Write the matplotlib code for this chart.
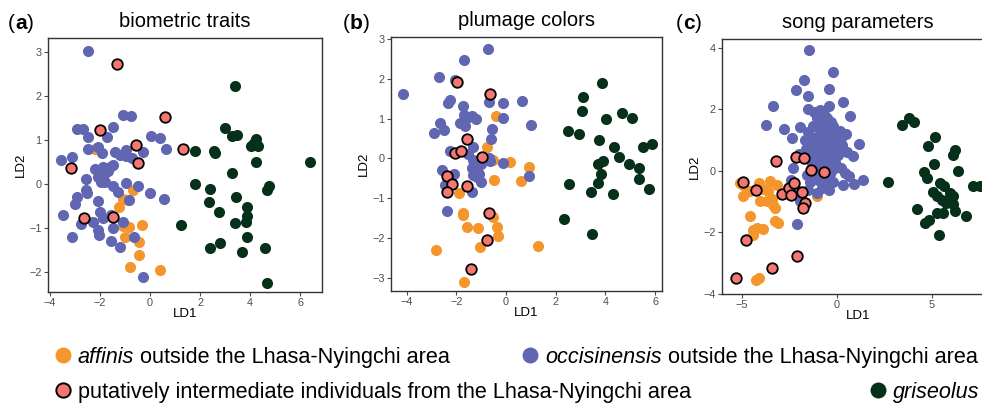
import matplotlib
matplotlib.use("Agg")
import matplotlib.pyplot as plt

plt.rcParams['font.family'] = ['Liberation Sans', 'DejaVu Sans']

# ---------------- data ----------------
# Panel a: biometric traits
a_aff_x = [-2.2, -0.69, -1.07, -0.89, -1.23, -1.09, -0.83, -0.32, -0.99, -0.43, -0.45, -0.8, 0.4]
a_aff_y = [0.8, -0.14, -0.33, -0.36, -0.51, -0.95, -0.98, -0.93, -1.19, -1.32, -1.61, -1.88, -1.96]
a_occ_x = [-2.49, -1.08, -0.77, -2.93, -2.69, -1.48, -2.47, -1.73, 0.03, 0.4, 0.64, -2.48, -2.07,
           -1.92, -3.57, -3.11, -1.4, -1.2, -0.97, -0.96, -0.73, -0.27, -2.2, -1.87, -1.6, -1.47,
           -1.67, -1.8, -2.07, -1.97, -2.56, -1.79, -1.47, -1.27, -0.96, -0.47, 0.0, -2.56, -2.51,
           -2.91, -3.0, -2.07, -0.83, 0.57, -3.49, -2.0, -1.87, -1.55, -2.27, -2.76, -1.47, -1.09,
           -2.09, -2.03, -3.13, -1.56, -1.2, -0.63, -0.29]
a_occ_y = [3.04, 1.58, 1.55, 1.26, 1.26, 1.3, 1.08, 1.08, 1.09, 1.05, 0.8, 0.8, 0.84,
           0.7, 0.55, 0.63, 0.73, 0.67, 0.78, 0.64, 0.6, 0.73, 0.34, 0.4, 0.4, 0.44,
           0.29, 0.25, 0.17, 0.06, 0.11, 0.04, -0.05, -0.17, 0.02, -0.03, -0.19, -0.13, -0.2,
           -0.28, -0.45, -0.39, -0.36, -0.34, -0.71, -0.63, -0.77, -0.7, -0.85, -0.9, -1.0, -0.85,
           -1.04, -1.16, -1.2, -1.28, -1.42, -1.2, -2.12]
a_int_x = [-1.33, 0.61, -2.0, -0.57, 1.31, -0.47, -3.17, -2.64, -1.47]
a_int_y = [2.74, 1.52, 1.23, 0.89, 0.79, 0.48, 0.37, -0.77, -0.75]
a_gri_x = [3.41, 2.99, 3.27, 3.49, 4.24, 4.16, 4.04, 4.31, 1.8, 2.57, 2.61, 4.23, 6.4, 3.28, 1.8,
           2.4, 4.77, 4.67, 3.43, 2.36, 3.87, 2.77, 3.89, 3.83, 3.4, 1.23, 3.87, 2.8, 2.41, 3.67,
           4.61, 4.67]
a_gri_y = [2.24, 1.27, 1.1, 1.11, 1.02, 0.93, 0.86, 0.86, 0.76, 0.76, 0.7, 0.5, 0.51, 0.25, 0.0,
           -0.11, -0.03, -0.13, -0.3, -0.41, -0.51, -0.64, -0.72, -0.85, -0.87, -0.93, -1.2, -1.34,
           -1.46, -1.55, -1.44, -2.25]

# Panel b: plumage colors
b_aff_x = [-0.4, -0.78, -0.51, 0.16, 0.94, -0.47, 0.6, -1.88, -1.74, -1.74, -0.51, -1.58, -1.14,
           -0.38, -0.31, -1.05, 1.28, -2.82, -1.7]
b_aff_y = [1.07, 0.29, -0.04, -0.08, -0.21, -0.53, -0.57, -0.88, -1.36, -1.42, -1.47, -1.72, -1.74,
           -1.72, -1.95, -2.22, -2.2, -2.3, -3.1]
b_occ_x = [-0.74, -1.7, -2.71, -2.05, -4.13, -2.32, -2.26, -0.67, -0.11, 0.64, -1.72, -1.68, -1.58,
           -1.36, -1.22, -0.11, -1.85, -1.65, -2.66, -2.48, -2.9, -0.55, 1.0, -0.62, -1.34, -2.26,
           -1.52, -1.34, -0.7, -0.64, -0.11, -1.0, -2.59, -2.08, -1.38, -1.18, -1.07, -1.34, -1.18,
           -1.02, -2.46, -1.36, 0.91, -2.36]
b_occ_y = [2.75, 2.46, 2.05, 1.97, 1.63, 1.38, 1.47, 1.42, 1.4, 1.44, 1.32, 1.09, 1.01,
           1.07, 0.98, 1.01, 0.88, 0.81, 0.88, 0.71, 0.63, 0.73, 0.83, 0.48, 0.29, 0.18,
           0.1, -0.04, 0.0, -0.06, -0.11, -0.13, -0.28, -0.38, -0.25, -0.29, -0.38, -0.42, -0.46,
           -0.6, -0.67, -0.85, -0.44, -1.32]
b_int_x = [-1.99, -0.64, -1.58, -0.98, -2.05, -1.81, -2.36, -2.19, -2.39, -1.57, -0.68, -0.75, -1.41]
b_int_y = [1.91, 1.63, 0.5, 0.03, 0.13, 0.18, -0.44, -0.63, -0.84, -0.69, -1.38, -2.05, -2.77]
b_gri_x = [3.87, 3.11, 3.07, 4.03, 4.66, 5.09, 2.48, 2.93, 3.73, 4.35, 4.54, 5.5, 5.87, 3.89, 3.72,
           4.97, 5.37, 3.81, 3.72, 5.37, 2.55, 5.77, 3.42, 4.32, 2.35, 3.45]
b_gri_y = [1.9, 1.55, 1.19, 0.99, 1.15, 1.02, 0.7, 0.61, 0.46, 0.28, 0.04, 0.28, 0.36, -0.06, -0.15,
           -0.13, -0.25, -0.39, -0.61, -0.52, -0.63, -0.78, -0.85, -0.9, -1.53, -1.89]

# Panel c: song parameters
c_aff_x = [-5.1, -4.96, -4.92, -4.57, -4.08, -3.52, -3.17, -3.61, -4.05, -3.7, -3.35, -3.26, -4.57,
           -3.26, -3.08, -4.4, -4.22, -3.91, -4.43, -4.26, -4.08, -1.07, -3.9, -3.4]
c_aff_y = [-0.4, -0.45, -0.83, -0.67, -0.4, -0.32, -0.45, -0.67, -0.99, -0.99, -1.1, -1.21, -1.48,
           -1.64, -1.7, -1.91, -1.86, -1.89, -2.08, -3.54, -3.48, -0.81, -0.6, -0.9]
c_occ_x = [-1.45, -0.23, -1.73, -2.15, -1.51, -0.4, -3.35, -1.54, -0.4, 0.33, 0.68, -3.73, -2.78,
           -1.94, -2.38, 1.16, 0.86, 0.5, 0.45,
           -1.21, -0.89, -0.7, -1.07, -0.54, -0.3, -1.24, -0.72, -0.19, -0.95, 0.16, -0.45, -1.5,
           -1.42, -0.98, -0.54, -0.19, 0.2, -1.7, -1.5, -1.05, -0.6, -0.2, 0.25, -0.8,
           -1.3, -0.9, -0.4, 0.0, -1.65, -2.0, -1.1, -0.7, -0.3, 0.05, -1.45,
           -1.3, -0.9, -0.5, -0.1, -2.33, -1.0, -0.6, -0.2, 0.2,
           -1.6, -1.2, -0.8, -0.35, 0.42, 0.65, -1.4, -1.0, -0.6, -0.2, 1.38, 0.89, 0.33,
           -1.51, -1.07, -0.4, -0.8, -2.56, -1.94, -2.1, -2.4, -2.2]
c_occ_y = [3.92, 3.22, 2.95, 2.61, 2.44, 2.65, 2.09, 2.01, 2.11, 2.22, 1.78, 1.49, 1.36,
           1.42, 1.08, 0.88, 0.47, 0.6, 1.2,
           1.92, 1.98, 1.85, 1.71, 1.71, 1.6, 1.46, 1.52, 1.46, 1.4, 1.28, 1.3, 1.25,
           1.11, 1.14, 1.14, 1.11, 1.05, 1.0, 0.85, 0.88, 0.85, 0.9, 0.85, 0.95,
           0.7, 0.65, 0.7, 0.65, 0.7, 0.55, 0.45, 0.5, 0.45, 0.5, 0.5,
           0.25, 0.3, 0.25, 0.3, 0.09, 0.1, 0.05, 0.05, 0.1,
           -0.15, -0.1, -0.15, -0.1, -0.08, -0.18, -0.35, -0.3, -0.3, -0.35, -0.31, -0.42, -0.45,
           -0.62, -0.72, -0.62, -0.55, -0.56, -0.99, -1.73, -0.3, -0.55]
c_int_x = [-3.22, -2.15, -1.73, -1.37, -0.67, -4.96, -4.26, -2.91, -2.51, -2.24, -2.42, -1.86,
           -1.68, -1.8, -4.78, -2.08, -3.4, -5.32]
c_int_y = [0.32, 0.46, 0.4, 0.03, -0.04, -0.35, -0.62, -0.76, -0.56, -0.4, -0.78, -0.69,
           -1.05, -1.21, -2.24, -2.76, -3.16, -3.48]
c_gri_x = [3.43, 3.8, 4.05, 5.15, 4.8, 6.2, 6.11, 6.37, 5.11, 4.59, 4.71, 2.7, 7.16, 7.51, 5.41,
           5.64, 5.03, 5.24, 5.5, 5.94, 6.08, 5.76, 6.11, 6.2, 6.78, 4.19, 5.24, 5.59, 4.85, 4.62, 5.38]
c_gri_y = [1.49, 1.73, 1.6, 1.11, 0.82, 0.68, 0.52, 0.01, 0.23, -0.04, -0.24, -0.37, -0.49, -0.48,
           -0.38, -0.49, -0.69, -0.83, -0.94, -0.72, -0.83, -1.05, -1.07, -1.32, -1.48, -1.24, -1.37,
           -1.37, -1.59, -1.7, -2.08]

titles = ["biometric traits", "plumage colors", "song parameters"]
panel_labels = ["a", "b", "c"]
legend_labels = ["affinis", "occisinensis", "griseolus"]
legend_suffix = " outside the Lhasa-Nyingchi area"
legend_int = "putatively intermediate individuals from the Lhasa-Nyingchi area"

# ---------------- style ----------------
C_AFF = "#F5962D"
C_OCC = "#6066B1"
C_INT = "#F47774"
C_GRI = "#06301A"
W, H = 982, 403

fig = plt.figure(figsize=(W / 100, H / 100), dpi=100)
renderer = fig.canvas.get_renderer()


def ax_at(l, t, r, b):
    return fig.add_axes([l / W, 1 - b / H, (r - l) / W, (b - t) / H])


axes = [ax_at(48, 38, 322, 292), ax_at(391, 37, 662, 291), ax_at(722, 39, 994, 294)]
data = [
    (a_aff_x, a_aff_y, a_occ_x, a_occ_y, a_int_x, a_int_y, a_gri_x, a_gri_y),
    (b_aff_x, b_aff_y, b_occ_x, b_occ_y, b_int_x, b_int_y, b_gri_x, b_gri_y),
    (c_aff_x, c_aff_y, c_occ_x, c_occ_y, c_int_x, c_int_y, c_gri_x, c_gri_y),
]
xlims = [(-4.08, 6.88), (-4.63, 6.28), (-6.05, 8.26)]
ylims = [(-2.45, 3.325), (-3.33, 3.05), (-4.0, 4.28)]
xticks = [[-4, -2, 0, 2, 4, 6], [-4, -2, 0, 2, 4, 6], [-5, 0, 5]]
yticks = [[-2, -1, 0, 1, 2, 3], [-3, -2, -1, 0, 1, 2, 3], [-4, -2, 0, 2, 4]]

S = 64
for i, ax in enumerate(axes):
    ax_, ay_, ox, oy, ix, iy, gx, gy = data[i]
    ax.scatter(ax_, ay_, s=S, color=C_AFF, linewidths=0, zorder=2)
    ax.scatter(ox, oy, s=S, color=C_OCC, linewidths=0, zorder=3)
    ax.scatter(gx, gy, s=S, color=C_GRI, linewidths=0, zorder=4)
    ax.scatter(ix, iy, s=S * 0.9, color=C_INT, edgecolors="black", linewidths=1.3, zorder=5)
    ax.set_xlim(*xlims[i])
    ax.set_ylim(*ylims[i])
    ax.set_xticks(xticks[i])
    ax.set_yticks(yticks[i])
    ax.tick_params(labelsize=7.8, colors="#4D4D4D", length=3, width=0.8, pad=1.5)
    for sp in ax.spines.values():
        sp.set_color("#333333")
        sp.set_linewidth(1.0)
    ax.set_xlabel("LD1", fontsize=9.5, labelpad=0)
    ax.set_ylabel("LD2", fontsize=9.5, labelpad=2)
    ax.set_title(titles[i], fontsize=14.5, pad=8)


def fig_x_after(t):
    bb = t.get_window_extent(renderer)
    return fig.transFigure.inverted().transform((bb.x1, bb.y0))[0]


# panel labels "(a)" with bold letter
for x0, lab in zip([8, 343, 676], panel_labels):
    y0 = 1 - 29 / H
    t = fig.text(x0 / W, y0, "(", fontsize=15, va="baseline", ha="left")
    t = fig.text(fig_x_after(t), y0, lab, fontsize=15, fontweight="bold", va="baseline", ha="left")
    fig.text(fig_x_after(t), y0, ")", fontsize=15, va="baseline", ha="left")

# legend on overlay axes in pixel coordinates
lg = fig.add_axes([0, 0, 1, 1], zorder=-1)
lg.set_xlim(0, W)
lg.set_ylim(H, 0)
lg.axis("off")
FS = 15.6


def two_part(x, y, italic, rest):
    t = lg.text(x, y, italic, style="italic", fontsize=FS, va="center_baseline", ha="left")
    bb = t.get_window_extent(renderer)
    x2 = lg.transData.inverted().transform((bb.x1, bb.y0))[0]
    lg.text(x2, y, rest, fontsize=FS, va="center_baseline", ha="left")


R1, R2 = 355, 390
MS = 11.5
lg.plot([63], [R1], "o", ms=MS, color=C_AFF, mew=0)
two_part(78, R1, legend_labels[0], legend_suffix)
lg.plot([530], [R1], "o", ms=MS, color=C_OCC, mew=0)
two_part(545, R1, legend_labels[1], legend_suffix)
lg.plot([63], [R2], "o", ms=MS - 1.2, color=C_INT, mec="black", mew=1.4)
lg.text(78, R2, legend_int, fontsize=FS, va="center_baseline", ha="left")
lg.plot([878], [R2], "o", ms=MS, color=C_GRI, mew=0)
lg.text(893, R2, legend_labels[2], style="italic", fontsize=FS, va="center_baseline", ha="left")

fig.savefig("out.png", dpi=100)
